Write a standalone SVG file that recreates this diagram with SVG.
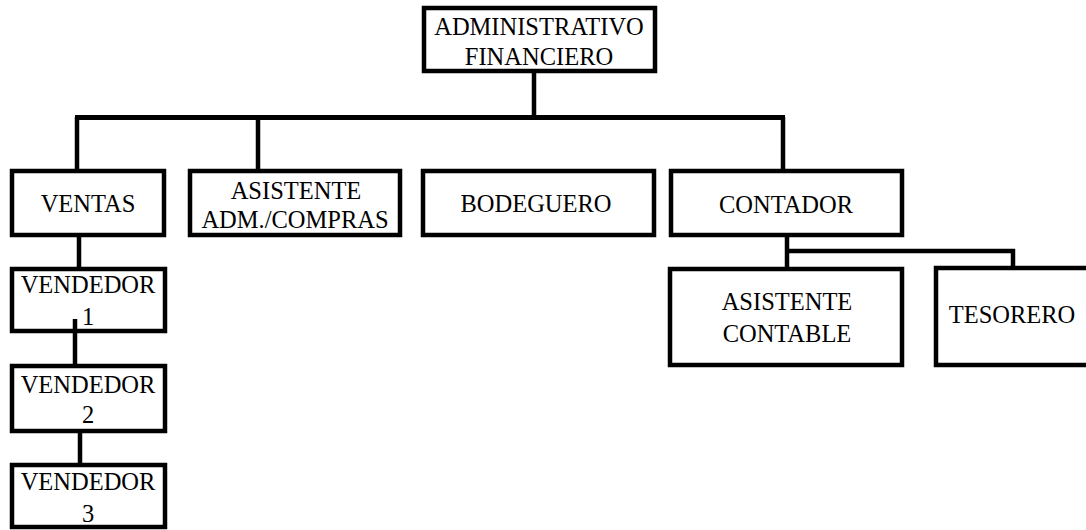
<svg xmlns="http://www.w3.org/2000/svg" width="1086" height="530" viewBox="0 0 1086 530">
<style>
.box{fill:#fff;stroke:#000;stroke-width:4.5}
.t{font-family:'Liberation Serif','Times New Roman','DejaVu Serif',serif;font-size:24.5px;fill:#000;text-anchor:middle}
.c{stroke:#000;stroke-width:4.5;fill:none}
</style>
<rect width="1086" height="530" fill="#fff"/>
<g id="n-admin">
<rect class="box" x="424" y="8" width="231" height="63"/>
<text class="t" x="539" y="35">ADMINISTRATIVO</text>
<text class="t" x="539" y="65">FINANCIERO</text>
</g>
<g id="n-ventas">
<rect class="box" x="12" y="171" width="152" height="64"/>
<text class="t" x="88" y="212">VENTAS</text>
</g>
<g id="n-asistente-adm">
<rect class="box" x="190" y="171" width="210" height="64"/>
<text class="t" x="296" y="199">ASISTENTE</text>
<text class="t" x="295" y="228">ADM./COMPRAS</text>
</g>
<g id="n-bodeguero">
<rect class="box" x="423" y="171" width="231" height="64"/>
<text class="t" x="536" y="212">BODEGUERO</text>
</g>
<g id="n-contador">
<rect class="box" x="671" y="171" width="231" height="64"/>
<text class="t" x="786" y="213">CONTADOR</text>
</g>
<g id="n-vendedor1">
<rect class="box" x="12" y="269" width="153" height="62"/>
<text class="t" x="88" y="293">VENDEDOR</text>
<text class="t" x="88" y="325">1</text>
</g>
<g id="n-vendedor2">
<rect class="box" x="12" y="366" width="153" height="65"/>
<text class="t" x="88" y="393">VENDEDOR</text>
<text class="t" x="88" y="423">2</text>
</g>
<g id="n-vendedor3">
<rect class="box" x="12" y="465" width="153" height="62"/>
<text class="t" x="88" y="490">VENDEDOR</text>
<text class="t" x="88" y="522">3</text>
</g>
<g id="n-asistente-contable">
<rect class="box" x="670" y="269" width="232" height="96"/>
<text class="t" x="787" y="310">ASISTENTE</text>
<text class="t" x="787" y="342">CONTABLE</text>
</g>
<g id="n-tesorero">
<rect class="box" x="936" y="268" width="160" height="97"/>
<text class="t" x="1012" y="323">TESORERO</text>
</g>
<g id="connectors">
<line class="c" x1="534" y1="73" x2="534" y2="117.5"/>
<line class="c" x1="75" y1="117.5" x2="785" y2="117.5" style="stroke-width:5"/>
<line class="c" x1="77" y1="117" x2="77" y2="169"/>
<line class="c" x1="258" y1="117" x2="258" y2="169"/>
<line class="c" x1="783" y1="117" x2="783" y2="169"/>
<line class="c" x1="79" y1="237" x2="79" y2="267"/>
<line class="c" x1="75" y1="319" x2="75" y2="364"/>
<line class="c" x1="80" y1="433" x2="80" y2="463"/>
<line class="c" x1="787" y1="237" x2="787" y2="267"/>
<line class="c" x1="785" y1="251" x2="1015" y2="251"/>
<line class="c" x1="1013" y1="249" x2="1013" y2="266"/>
</g>
</svg>
